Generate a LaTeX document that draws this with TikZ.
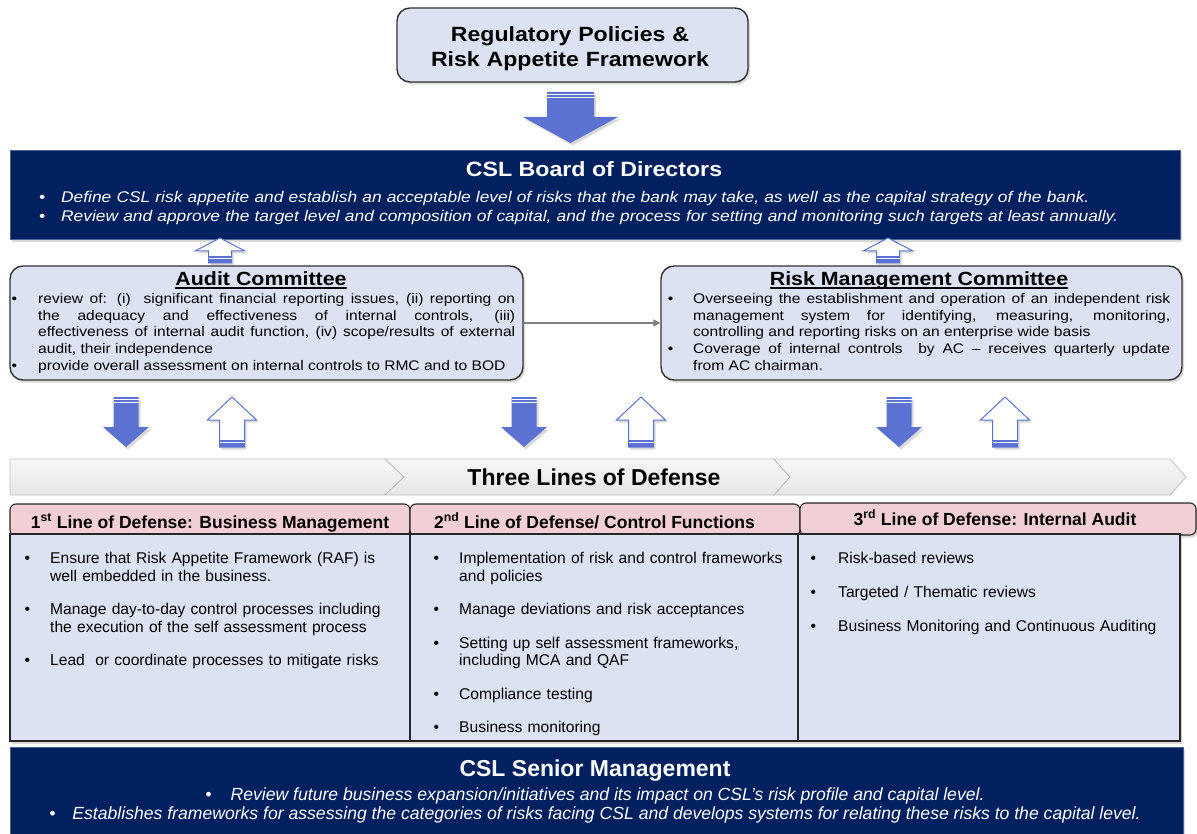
\documentclass[tikz,border=0pt]{standalone}
\usepackage{fontspec}
\setmainfont{Liberation Sans}
\newfontfamily\widesans[FakeStretch=1.12]{Liberation Sans}
\usetikzlibrary{shadows,arrows.meta}

\definecolor{navy}{RGB}{0,32,96}
\definecolor{lavender}{RGB}{221,226,243}
\definecolor{pinkhead}{RGB}{242,206,213}
\definecolor{arrowblue}{RGB}{91,114,210}

\newcommand{\fsz}[2]{\fontsize{#1}{#2}\selectfont}
\newcommand{\bul}[1]{\leavevmode\llap{\textbullet\hspace{#1}}}
\newcommand{\ulbold}[1]{\setbox0\hbox{#1}\rlap{\rule[-2.6pt]{\wd0}{1.3pt}}\box0}

% block arrows: centre x, top, bottom, half shaft, half head, head length
\newcommand{\downblock}[6]{%
  \fill[arrowblue, boxshadow] ({#1-#4},#2) -- ({#1+#4},#2) -- ({#1+#4},{#3-#6}) -- ({#1+#5},{#3-#6})
    -- (#1,#3) -- ({#1-#5},{#3-#6}) -- ({#1-#4},{#3-#6}) -- cycle;
  \draw[white, line width=0.9pt] ({#1-#4},{#2+2.5}) -- ({#1+#4},{#2+2.5})
    ({#1-#4},{#2+5.5}) -- ({#1+#4},{#2+5.5});
}
\newcommand{\upblock}[6]{%
  \draw[arrowblue, fill=white, line width=1pt, boxshadow] ({#1-#4},#3) -- ({#1-#4},{#2+#6}) -- ({#1-#5},{#2+#6})
    -- (#1,#2) -- ({#1+#5},{#2+#6}) -- ({#1+#4},{#2+#6}) -- ({#1+#4},#3) -- cycle;
  \fill[arrowblue] ({#1-#4},{#3-7}) rectangle ({#1+#4},#3);
  \draw[white, line width=0.9pt] ({#1-#4},{#3-4.5}) -- ({#1+#4},{#3-4.5});
}

\begin{document}
\begin{tikzpicture}[x=1pt, y=-1pt,
  boxshadow/.style={drop shadow={shadow xshift=2pt, shadow yshift=-2.5pt, opacity=0.3}},
  roundbox/.style={draw=black!80, line width=1.4pt, fill=lavender, rounded corners=13pt, boxshadow, inner sep=0pt},
  navybox/.style={fill=navy, draw=navy!70!white, line width=0.6pt, boxshadow, inner sep=0pt},
  headbox/.style={draw=black!85, line width=1.1pt, fill=pinkhead, rounded corners=6pt, boxshadow, inner sep=0pt},
  colbox/.style={draw=black!85, line width=1.1pt, fill=lavender, inner sep=0pt, boxshadow},
  chevron/.style={draw=black!25, line width=0.8pt, top color=white!97!black, bottom color=white!90!black},
  conn/.style={draw=black!50, line width=1.3pt, -{Triangle[length=7pt,width=7pt]}},
  hfont/.style={anchor=base, inner sep=0pt, font=\bfseries\fsz{17.5}{20}},
  item/.style={anchor=base west, text width=340pt, align=left, inner sep=0pt, font=\fsz{15.6}{17.3}},
  ]
  \useasboundingbox (0,0) rectangle (1197,834);

  \node[roundbox, minimum width=351pt, minimum height=74pt] (policies) at (572.5,45) {};
  \node[anchor=base, text width=345pt, align=center, inner sep=0pt, font=\widesans\bfseries\fsz{20.6}{25}] (poltext) at (570,41.5)
    {Regulatory Policies \&\\Risk Appetite Framework};
  \downblock{570.5}{92}{143}{23.5}{47.5}{26}

  \node[navybox, minimum width=1170pt, minimum height=89pt] (board) at (595,195) {};
  \node[anchor=base, inner sep=0pt, text=white, font=\widesans\bfseries\fsz{20.7}{22}] (boardtitle) at (594,177) {CSL Board of Directors};
  \node[anchor=base west, text width=1120pt, align=left, inner sep=0pt, text=white, font=\widesans\itshape\fsz{15.5}{19.5}] (boardtext) at (61,202.5)
    {\bul{16pt}Define CSL risk appetite and establish an acceptable level of risks that the bank may take, as well as the capital strategy of the bank.\par
     \bul{16pt}Review and approve the target level and composition of capital, and the process for setting and monitoring such targets at least annually.};

  \upblock{220}{238}{263}{11.5}{25}{13}
  \upblock{888}{238}{263}{11.5}{25}{13}

  \node[roundbox, minimum width=513pt, minimum height=114pt] (audit) at (266.5,323) {};
  \node[anchor=base, inner sep=0pt, font=\widesans\bfseries\fsz{19.1}{20}] (audittitle) at (261,286) {\ulbold{Audit Committee}};
  \node[anchor=base west, text width=477pt, align=justify, inner sep=0pt, font=\widesans\fsz{13.9}{16.7}] (audittext) at (38,303.5)
    {\bul{21pt}review of: (i)\ \ significant financial reporting issues, (ii) reporting on\linebreak
     the adequacy and effectiveness of internal controls, (iii)\linebreak
     effectiveness of internal audit function, (iv) scope/results of external\linebreak
     audit, their independence\par
     \bul{21pt}provide overall assessment on internal controls to RMC and to BOD};

  \node[roundbox, minimum width=521pt, minimum height=114pt] (rmc) at (921.5,323) {};
  \node[anchor=base, inner sep=0pt, font=\widesans\bfseries\fsz{19.1}{20}] (rmctitle) at (919,286) {\ulbold{Risk Management Committee}};
  \node[anchor=base west, text width=477pt, align=justify, inner sep=0pt, font=\widesans\fsz{13.9}{16.7}] (rmctext) at (693,303.5)
    {\bul{20pt}Overseeing the establishment and operation of an independent risk\linebreak
     management system for identifying, measuring, monitoring,\linebreak
     controlling and reporting risks on an enterprise wide basis\par
     \bul{20pt}Coverage of internal controls\ \ by AC – receives quarterly update\linebreak
     from AC chairman.};

  \draw[conn] (audit) -- (rmc);

  \downblock{126}{397}{447}{12.5}{23}{20}
  \upblock{232}{397}{447}{12.5}{24.5}{23}
  \downblock{524}{397}{447}{12.5}{23}{20}
  \upblock{641}{397}{447}{12.5}{24.5}{23}
  \downblock{899}{397}{447}{12.5}{23}{20}
  \upblock{1005}{397}{447}{12.5}{24.5}{23}

  \draw[chevron] (10,459) -- (385,459) -- (404,477) -- (385,495) -- (10,495) -- cycle;
  \draw[chevron] (385,459) -- (774,459) -- (790,477) -- (774,495) -- (385,495) -- (404,477) -- cycle;
  \draw[chevron] (774,459) -- (1170,459) -- (1186,477) -- (1170,495) -- (774,495) -- (790,477) -- cycle;
  \node[anchor=base, inner sep=0pt, font=\bfseries\fsz{23}{26}] (lines) at (594,485) {Three Lines of Defense};

  \node[headbox, minimum width=400pt, minimum height=32pt] (head1) at (210,520) {};
  \node[headbox, minimum width=390pt, minimum height=32pt] (head2) at (605,520) {};
  \node[headbox, minimum width=396pt, minimum height=32pt] (head3) at (998,519) {};
  \node[hfont] (h1text) at (210,528) {1\textsuperscript{st} Line of Defense: Business Management};
  \node[hfont] (h2text) at (594.5,528) {2\textsuperscript{nd} Line of Defense/ Control Functions};
  \node[hfont] (h3text) at (995,525) {3\textsuperscript{rd} Line of Defense: Internal Audit};

  \node[colbox, minimum width=400pt, minimum height=207pt] (body1) at (210,637.5) {};
  \node[colbox, minimum width=388pt, minimum height=207pt] (body2) at (604,637.5) {};
  \node[colbox, minimum width=382pt, minimum height=207pt] (body3) at (989,637.5) {};

  \node[item] (c1a) at (50,563.8) {\bul{20pt}Ensure that Risk Appetite Framework (RAF) is\\well embedded in the business.};
  \node[item] (c1b) at (50,614.7) {\bul{20pt}Manage day-to-day control processes including\\the execution of the self assessment process};
  \node[item] (c1c) at (50,665.5) {\bul{20pt}Lead\ \ or coordinate processes to mitigate risks};
  \node[item] (c2a) at (459,563.8) {\bul{20pt}Implementation of risk and control frameworks\\and policies};
  \node[item] (c2b) at (459,614.7) {\bul{20pt}Manage deviations and risk acceptances};
  \node[item] (c2c) at (459,648.3) {\bul{20pt}Setting up self assessment frameworks,\\including MCA and QAF};
  \node[item] (c2d) at (459,699.2) {\bul{20pt}Compliance testing};
  \node[item] (c2e) at (459,732.8) {\bul{20pt}Business monitoring};
  \node[item] (c3a) at (838,563.8) {\bul{22pt}Risk-based reviews};
  \node[item] (c3b) at (838,597.4) {\bul{22pt}Targeted / Thematic reviews};
  \node[item] (c3c) at (838,631) {\bul{22pt}Business Monitoring and Continuous Auditing};

  \node[navybox, minimum width=1173pt, minimum height=100pt] (senior) at (596.5,797.5) {};
  \node[anchor=base, inner sep=0pt, text=white, font=\bfseries\fsz{23}{26}] (seniortitle) at (595,776) {CSL Senior Management};
  \node[anchor=base, inner sep=0pt, text=white, font=\itshape\fsz{17.6}{19}] (sm1) at (595,800)
    {\textbullet\hspace{19pt}Review future business expansion/initiatives and its impact on CSL’s risk profile and capital level.};
  \node[anchor=base, inner sep=0pt, text=white, font=\itshape\fsz{17.6}{19}] (sm2) at (595,819)
    {\textbullet\hspace{17pt}Establishes frameworks for assessing the categories of risks facing CSL and develops systems for relating these risks to the capital level.};
\end{tikzpicture}
\end{document}
